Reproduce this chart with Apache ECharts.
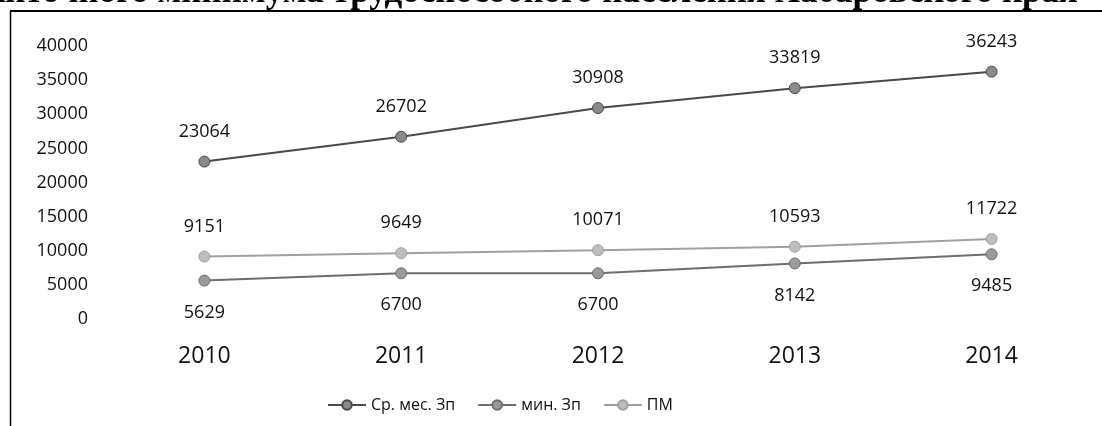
<!DOCTYPE html>
<html>
<head>
<meta charset="utf-8">
<script src="https://cdn.jsdelivr.net/npm/echarts@6/dist/echarts.min.js"></script>
<style>
  html, body { margin: 0; padding: 0; background: #fff; }
  #chart { width: 1102px; height: 426px; }
</style>
</head>
<body>
<div id="chart"></div>
<script>
// Years on the category axis
const years = ['2010', '2011', '2012', '2013', '2014'];
// Average monthly wage
const avgWage = [23064, 26702, 30908, 33819, 36243];
// Minimum wage
const minWage = [5629, 6700, 6700, 8142, 9485];
// Subsistence minimum
const subsistence = [9151, 9649, 10071, 10593, 11722];
// Series names shown in the legend
const seriesNames = ['Ср. мес. Зп', 'мин. Зп', 'ПМ'];
const titleText = 'прожиточного минимума трудоспособного населения Хабаровского края';

const FONT = '"Open Sans", "Liberation Sans", sans-serif';

function lineSeries(name, data, lineColor, markColor, labelPos, dist) {
  return {
    name: name,
    type: 'line',
    data: data,
    symbol: 'circle',
    symbolSize: 11,
    lineStyle: { color: lineColor, width: 2 },
    itemStyle: { color: markColor, borderColor: lineColor, borderWidth: 1 },
    label: {
      show: true,
      position: labelPos,
      distance: dist,
      color: '#111',
      fontFamily: FONT,
      fontSize: 18
    },
    z: 3
  };
}

const chart = echarts.init(document.getElementById('chart'), null, { renderer: 'canvas' });
chart.setOption({
  animation: false,
  backgroundColor: '#fff',
  grid: { left: 106, right: 12, top: 46, bottom: 107, containLabel: false },
  legend: {
    bottom: 8,
    left: 322,
    itemWidth: 38,
    itemHeight: 12,
    itemGap: 22,
    data: seriesNames,
    textStyle: { color: '#111', fontFamily: FONT, fontSize: 16 }
  },
  xAxis: {
    type: 'category',
    data: years,
    boundaryGap: true,
    axisLine: { show: false },
    axisTick: { show: false },
    axisLabel: { color: '#111', fontFamily: FONT, fontSize: 23, margin: 26 }
  },
  yAxis: {
    type: 'value',
    min: 0,
    max: 40000,
    interval: 5000,
    splitLine: { show: false },
    axisLine: { show: false },
    axisTick: { show: false },
    axisLabel: {
      color: '#111',
      fontFamily: FONT,
      fontSize: 18,
      margin: 18,
      formatter: function (v) { return String(v); }
    }
  },
  series: [
    lineSeries(seriesNames[0], avgWage, '#4a4a4a', '#8a8a8a', 'top', 15),
    lineSeries(seriesNames[1], minWage, '#6e6e6e', '#9a9a9a', 'bottom', 17),
    lineSeries(seriesNames[2], subsistence, '#a0a0a0', '#bdbdbd', 'top', 15)
  ],
  graphic: [
    {
      type: 'text',
      right: 24,
      top: -25,
      style: {
        text: titleText,
        fill: '#000',
        font: 'bold 35px "Liberation Serif", serif'
      }
    },
    {
      type: 'line',
      shape: { x1: 10, y1: 11, x2: 1102, y2: 11 },
      style: { stroke: '#000', lineWidth: 2 }
    },
    {
      type: 'line',
      shape: { x1: 10.5, y1: 11, x2: 10.5, y2: 426 },
      style: { stroke: '#000', lineWidth: 1.5 }
    }
  ]
});
</script>
</body>
</html>
